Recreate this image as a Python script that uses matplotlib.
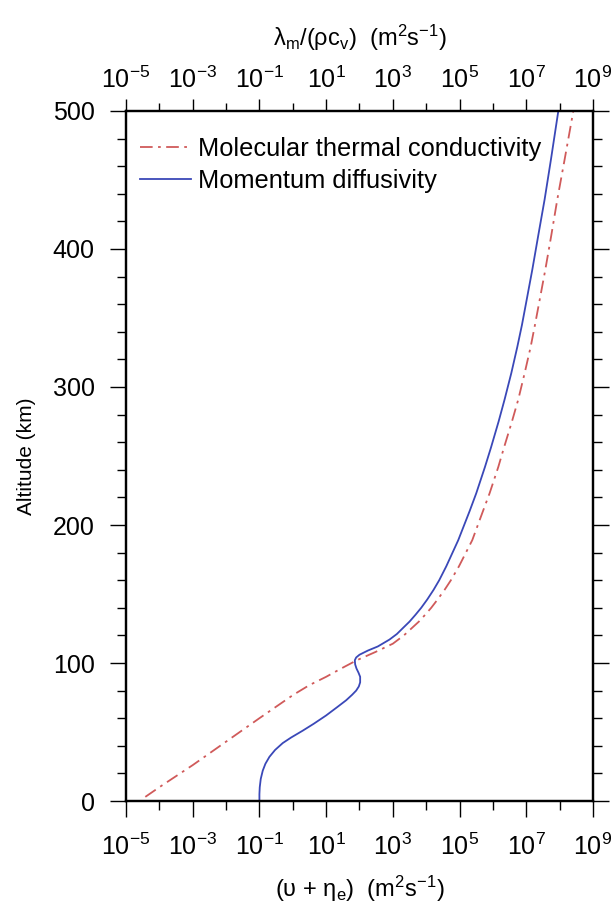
import numpy as np
import matplotlib
matplotlib.use("Agg")
import matplotlib.pyplot as plt
from matplotlib.ticker import FixedLocator, FixedFormatter, NullFormatter

plt.rcParams["font.family"] = ["Liberation Sans", "DejaVu Sans"]
plt.rcParams["mathtext.fontset"] = "custom"
plt.rcParams["mathtext.rm"] = "Liberation Sans"
plt.rcParams["mathtext.it"] = "Liberation Sans"
plt.rcParams["mathtext.default"] = "regular"

# Momentum diffusivity (upsilon + eta_e), log10 of m2/s
momentum_alt = [0, 5, 10, 16, 22, 27, 32, 37, 42, 46, 51, 56, 62, 68, 73, 77, 80,
                83, 86, 90, 93, 96, 99, 102, 104, 106, 109, 112, 117, 121, 126,
                130, 135, 140, 146, 153, 160, 170, 189, 210, 223, 242, 256, 275,
                291, 310, 329, 345, 363, 385, 410, 436, 465, 500]
momentum_exp = [-1.0, -1.0, -0.99, -0.96, -0.9, -0.82, -0.7, -0.53, -0.3, -0.05,
                0.3, 0.63, 1.0, 1.33, 1.6, 1.78, 1.9, 1.98, 2.02, 2.02, 1.97,
                1.91, 1.87, 1.86, 1.9, 2.0, 2.25, 2.55, 2.9, 3.12, 3.33, 3.5,
                3.68, 3.85, 4.03, 4.22, 4.39, 4.6, 4.96, 5.3, 5.5, 5.76, 5.94,
                6.17, 6.35, 6.55, 6.73, 6.87, 7.01, 7.18, 7.36, 7.55, 7.74, 7.96]

# Molecular thermal conductivity lambda_m/(rho c_v)
thermal_alt = [3, 10, 26, 43, 60, 70, 77, 84, 90, 96, 102, 108, 114, 120, 126,
               130, 135, 140, 146, 153, 160, 170, 189, 210, 223, 242, 256, 275,
               291, 310, 329, 345, 363, 385, 410, 436, 465, 500]
thermal_exp = [-4.42, -4.0, -3.0, -2.0, -1.0, -0.4, 0.02, 0.5, 1.0, 1.45, 1.92,
               2.48, 3.0, 3.33, 3.6, 3.78, 3.97, 4.15, 4.34, 4.55, 4.74, 4.98,
               5.38, 5.7, 5.9, 6.16, 6.33, 6.57, 6.76, 6.95, 7.13, 7.26, 7.4,
               7.57, 7.75, 7.93, 8.15, 8.41]

major_exp = [-5, -3, -1, 1, 3, 5, 7, 9]
minor_exp = [-4, -2, 0, 2, 4, 6, 8]
xlabels = ["10$^{%d}$" % e for e in major_exp]
yticks = [0, 100, 200, 300, 400, 500]

fig = plt.figure(figsize=(6.13, 9.09), dpi=100)
ax = fig.add_axes([0.2055, 0.1188, 0.7619, 0.7591])

ax.plot(10.0 ** np.array(thermal_exp), thermal_alt, color="#d05a5a", lw=1.3,
        dashes=(7, 3, 1.5, 3), label="Molecular thermal conductivity")
ax.plot(10.0 ** np.array(momentum_exp), momentum_alt, color="#3a48b8", lw=1.3,
        label="Momentum diffusivity")

ax.set_xscale("log")
ax.set_xlim(1e-5, 1e9)
ax.set_ylim(0, 500)


def style_x(a):
    a.xaxis.set_major_locator(FixedLocator([10.0 ** e for e in major_exp]))
    a.xaxis.set_major_formatter(FixedFormatter(xlabels))
    a.xaxis.set_minor_locator(FixedLocator([10.0 ** e for e in minor_exp]))
    a.xaxis.set_minor_formatter(NullFormatter())


style_x(ax)
ax.set_yticks(yticks)
ax.set_yticks(np.arange(0, 501, 20), minor=True)

ax.tick_params(which="major", direction="out", length=11.5, width=1.0,
               labelsize=18, right=True)
ax.tick_params(axis="x", which="major", pad=12)
ax.tick_params(axis="y", which="major", pad=11)
ax.tick_params(which="minor", direction="out", length=6.5, width=1.0, right=True)
for s in ax.spines.values():
    s.set_linewidth(1.6)

ax2 = ax.twiny()
ax2.set_xscale("log")
ax2.set_xlim(ax.get_xlim())
style_x(ax2)
ax2.tick_params(which="major", direction="out", length=9, width=1.0,
                labelsize=18, pad=4)
ax2.tick_params(which="minor", direction="out", length=6, width=1.0)
for s in ax2.spines.values():
    s.set_linewidth(1.6)

ax.set_xlabel("(υ + η$_e$)  (m$^2$s$^{-1}$)", fontsize=17, labelpad=10)
ax2.set_xlabel("λ$_m$/(ρc$_v$)  (m$^2$s$^{-1}$)", fontsize=17, labelpad=15)
ax.set_ylabel("Altitude (km)", fontsize=15, labelpad=12)

ax.legend(loc="upper left", frameon=False, fontsize=18.3, handlelength=2.0,
          handletextpad=0.28, borderaxespad=0, borderpad=0, labelspacing=0.3,
          bbox_to_anchor=(14 / 467, 0.962))

fig.savefig("out.png", dpi=100)
